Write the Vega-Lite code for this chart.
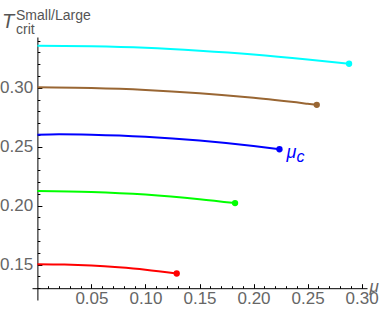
{
  "$schema": "https://vega.github.io/schema/vega-lite/v6.json",
  "width": 335,
  "height": 263,
  "autosize": "none",
  "padding": {"left": 32, "top": 37, "right": 21, "bottom": 19},
  "background": "white",
  "config": {"view": {"stroke": null}, "font": "Liberation Sans"},
  "title": {
    "text": "Small/Large",
    "subtitle": "crit",
    "anchor": "start",
    "frame": "group",
    "dx": -16,
    "dy": 31,
    "offset": 6,
    "font": "Liberation Sans Narrow, Liberation Sans, sans-serif",
    "fontSize": 14,
    "fontWeight": "normal",
    "color": "#555555",
    "subtitleFont": "Liberation Sans Narrow, Liberation Sans, sans-serif",
    "subtitleFontSize": 14,
    "subtitleColor": "#555555",
    "subtitlePadding": 0
  },
  "data": {
    "values": [
      {"series": "cyan", "mu": 0.0, "T": 0.3356},
      {"series": "cyan", "mu": 0.05, "T": 0.3351},
      {"series": "cyan", "mu": 0.1, "T": 0.3338},
      {"series": "cyan", "mu": 0.15, "T": 0.3314},
      {"series": "cyan", "mu": 0.2, "T": 0.3282},
      {"series": "cyan", "mu": 0.25, "T": 0.324},
      {"series": "cyan", "mu": 0.2884, "T": 0.3203},
      {"series": "brown", "mu": 0.0, "T": 0.3003},
      {"series": "brown", "mu": 0.05, "T": 0.2997},
      {"series": "brown", "mu": 0.1, "T": 0.2981},
      {"series": "brown", "mu": 0.15, "T": 0.2953},
      {"series": "brown", "mu": 0.2, "T": 0.2914},
      {"series": "brown", "mu": 0.25, "T": 0.2864},
      {"series": "brown", "mu": 0.2585, "T": 0.2855},
      {"series": "blue", "mu": 0.0, "T": 0.2601},
      {"series": "blue", "mu": 0.02, "T": 0.2606},
      {"series": "blue", "mu": 0.05, "T": 0.2602},
      {"series": "blue", "mu": 0.1, "T": 0.2585},
      {"series": "blue", "mu": 0.15, "T": 0.2553},
      {"series": "blue", "mu": 0.2, "T": 0.2506},
      {"series": "blue", "mu": 0.224, "T": 0.2478},
      {"series": "green", "mu": 0.0, "T": 0.2124},
      {"series": "green", "mu": 0.05, "T": 0.2116},
      {"series": "green", "mu": 0.1, "T": 0.2094},
      {"series": "green", "mu": 0.15, "T": 0.2055},
      {"series": "green", "mu": 0.1829, "T": 0.2022},
      {"series": "red", "mu": 0.0, "T": 0.1504},
      {"series": "red", "mu": 0.025, "T": 0.1501},
      {"series": "red", "mu": 0.05, "T": 0.1492},
      {"series": "red", "mu": 0.075, "T": 0.1477},
      {"series": "red", "mu": 0.1, "T": 0.1457},
      {"series": "red", "mu": 0.1289, "T": 0.1425}
    ]
  },
  "encoding": {
    "x": {
      "field": "mu",
      "type": "quantitative",
      "scale": {"domain": [-0.005, 0.305], "nice": false, "zero": false},
      "axis": {
        "orient": "bottom",
        "offset": -11.8,
        "values": [0.01,0.02,0.03,0.04,0.05,0.06,0.07,0.08,0.09,0.10,0.11,0.12,0.13,0.14,0.15,0.16,0.17,0.18,0.19,0.20,0.21,0.22,0.23,0.24,0.25,0.26,0.27,0.28,0.29,0.30],
        "labelExpr": "abs(datum.value*20 - round(datum.value*20)) < 0.000001 ? format(datum.value, '.2f') : ''",
        "tickSize": {"condition": {"test": "abs(datum.value*20 - round(datum.value*20)) < 0.000001", "value": -4.5}, "value": -2.5},
        "tickColor": "black",
        "domainColor": "black",
        "labelColor": "#666666",
        "labelFontSize": 17,
        "labelPadding": 6.5,
        "labelFlush": false,
        "labelOverlap": false,
        "grid": false,
        "title": "μ",
        "titleFontStyle": "italic",
        "titleFontSize": 17,
        "titleFontWeight": "normal",
        "titleColor": "#666666",
        "titleAngle": 0,
        "titleX": 337,
        "titleY": 3,
        "titleAlign": "left",
        "titleBaseline": "alphabetic"
      }
    },
    "y": {
      "field": "T",
      "type": "quantitative",
      "scale": {"domain": [0.12, 0.343], "nice": false, "zero": false},
      "axis": {
        "orient": "left",
        "offset": -5.4,
        "values": [0.13,0.14,0.15,0.16,0.17,0.18,0.19,0.20,0.21,0.22,0.23,0.24,0.25,0.26,0.27,0.28,0.29,0.30,0.31,0.32,0.33,0.34],
        "labelExpr": "abs(datum.value*20 - round(datum.value*20)) < 0.000001 ? format(datum.value, '.2f') : ''",
        "tickSize": {"condition": {"test": "abs(datum.value*20 - round(datum.value*20)) < 0.000001", "value": -4.5}, "value": -2.5},
        "tickColor": "black",
        "domainColor": "black",
        "labelColor": "#666666",
        "labelFontSize": 17,
        "labelPadding": 9.2,
        "labelFlush": false,
        "labelOverlap": false,
        "grid": false,
        "title": "T",
        "titleFontStyle": "italic",
        "titleFontSize": 20,
        "titleFontWeight": "normal",
        "titleColor": "#555555",
        "titleAngle": 0,
        "titleAlign": "left",
        "titleBaseline": "alphabetic",
        "titleX": -36,
        "titleY": -9.5
      }
    }
  },
  "layer": [
    {
      "mark": {"type": "line", "strokeWidth": 2, "interpolate": "monotone"},
      "encoding": {
        "color": {
          "field": "series",
          "type": "nominal",
          "scale": {"domain": ["red", "green", "blue", "brown", "cyan"], "range": ["#ff0000", "#00ff00", "#0000ff", "#996633", "#00ffff"]},
          "legend": null
        }
      }
    },
    {
      "transform": [
        {"joinaggregate": [{"op": "max", "field": "mu", "as": "muMax"}], "groupby": ["series"]},
        {"filter": "datum.mu === datum.muMax"}
      ],
      "mark": {"type": "point", "filled": true, "size": 40, "opacity": 1},
      "encoding": {
        "color": {
          "field": "series",
          "type": "nominal",
          "scale": {"domain": ["red", "green", "blue", "brown", "cyan"], "range": ["#ff0000", "#00ff00", "#0000ff", "#996633", "#00ffff"]},
          "legend": null
        }
      }
    },
    {
      "transform": [
        {"joinaggregate": [{"op": "max", "field": "mu", "as": "muMax"}], "groupby": ["series"]},
        {"filter": "datum.mu === datum.muMax && datum.series === 'blue'"}
      ],
      "mark": {"type": "text", "text": "μ", "dx": 7, "dy": 9, "align": "left", "baseline": "alphabetic", "fontSize": 18, "fontStyle": "italic", "color": "#0000ff"}
    },
    {
      "transform": [
        {"joinaggregate": [{"op": "max", "field": "mu", "as": "muMax"}], "groupby": ["series"]},
        {"filter": "datum.mu === datum.muMax && datum.series === 'blue'"}
      ],
      "mark": {"type": "text", "text": "c", "dx": 17, "dy": 13, "align": "left", "baseline": "alphabetic", "fontSize": 16, "fontStyle": "italic", "color": "#0000ff"}
    }
  ]
}
